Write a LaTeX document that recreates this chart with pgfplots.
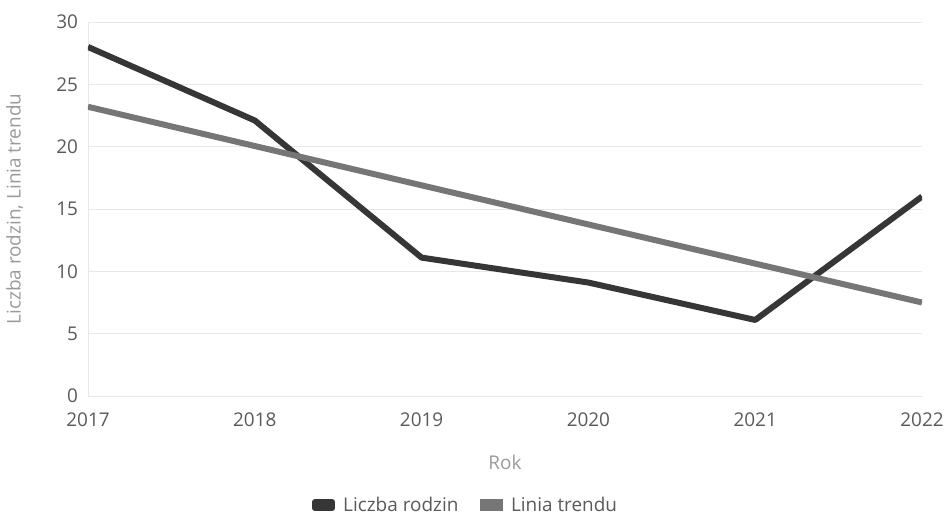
\documentclass[border=0pt]{standalone}
\usepackage{pgfplots}
\pgfplotsset{compat=1.18}
\usepackage{fontspec}
\setmainfont{Open Sans}
\definecolor{seriesA}{HTML}{363636}
\definecolor{seriesB}{HTML}{767676}
\definecolor{ticktext}{HTML}{5A5A5A}
\definecolor{labeltext}{HTML}{9A9A9A}
\definecolor{gridc}{HTML}{E8E8E8}

\begin{document}
\begin{tikzpicture}
\begin{axis}[
scale only axis,
width=625.5bp, height=280.5bp,
xmin=2017, xmax=2022, ymin=0, ymax=30,
xtick={2017,2018,2019,2020,2021,2022},
ytick={0,5,10,15,20,25,30},
x tick label style={/pgf/number format/1000 sep={}},
/pgf/number format/assume math mode=true,
axis line style={draw=none},
tick style={draw=none},
ymajorgrids,
major grid style={gridc, line width=0.6bp},
tick label style={font=\fontsize{14.2bp}{17bp}\selectfont, text=ticktext},
xticklabel style={yshift=-9bp},
yticklabel style={xshift=-4bp},
xlabel={Rok},
ylabel={Liczba rodzin, Linia trendu},
label style={font=\fontsize{14.2bp}{17bp}\selectfont, text=labeltext},
xlabel style={at={(axis description cs:0.5,0)}, anchor=center, yshift=-50bp},
ylabel style={at={(axis description cs:0,0.5)}, anchor=center, yshift=55bp},
legend columns=2,
legend style={at={(0.453,-0.292)}, anchor=center, draw=none,
  font=\fontsize{14.2bp}{17bp}\selectfont, text=ticktext,
  /tikz/every odd column/.append style={column sep=4bp},
  /tikz/every even column/.append style={column sep=14bp}},
legend image code/.code={\fill[#1] (0bp,-2.3bp) rectangle (13bp,2.3bp);},
]
\addplot[gridc, line width=0.6bp, forget plot] coordinates {(2017,0) (2017,30)};
\addplot[seriesA, line width=4.5bp, line cap=butt, line join=round] coordinates {
(2017,28) (2018,22.1) (2019,11.1) (2020,9.1) (2021,6.1) (2022,16.0)};
\addlegendentry{Liczba rodzin}
\addplot[seriesB, line width=4.5bp, line cap=butt] coordinates {
(2017,23.2) (2018,20.05) (2019,16.9) (2020,13.76) (2021,10.62) (2022,7.5)};
\addlegendentry{Linia trendu}
\end{axis}
\pgfresetboundingbox
\path ([xshift=-66bp,yshift=-90.75bp]current axis.south west) rectangle ([xshift=20.25bp,yshift=16.5bp]current axis.north east);
\end{tikzpicture}
\end{document}
